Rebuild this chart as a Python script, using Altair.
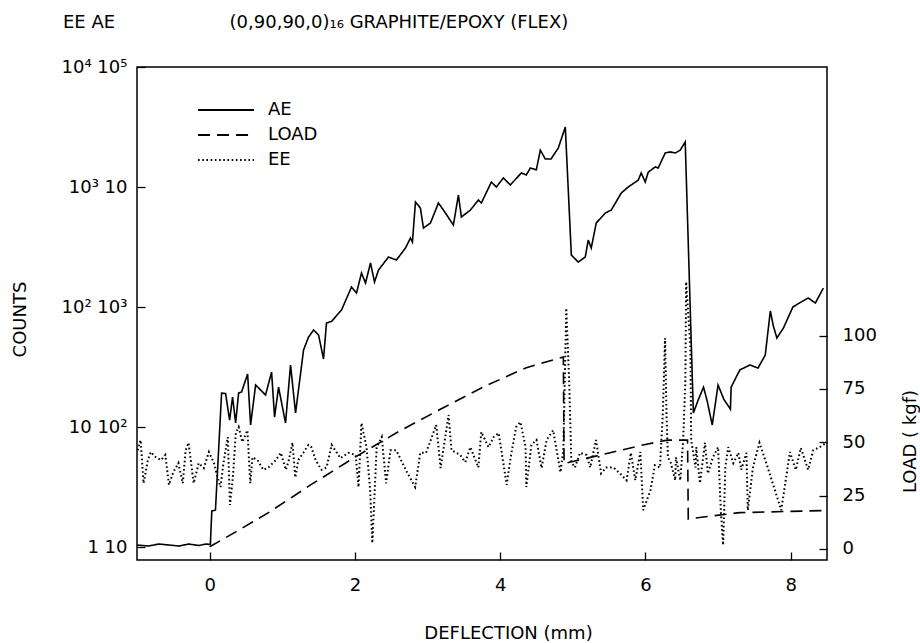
import json
import altair as alt
import pandas as pd

FONT = "DejaVu Sans"
FS = 18

# ---------------- data ----------------
ae_x = [-1.0, -0.84, -0.7, -0.56, -0.42, -0.29, -0.15, -0.05, 0.01, 0.03, 0.08, 0.165, 0.22,
        0.275, 0.316, 0.358, 0.399, 0.44, 0.523, 0.564, 0.633, 0.77, 0.853, 0.894, 0.949,
        1.045, 1.114, 1.183, 1.293, 1.36, 1.431, 1.5, 1.568, 1.609, 1.68, 1.816, 1.953, 2.022,
        2.091, 2.146, 2.215, 2.27, 2.325, 2.462, 2.572, 2.696, 2.765, 2.792, 2.834, 2.902,
        2.944, 3.04, 3.15, 3.219, 3.356, 3.425, 3.466, 3.59, 3.70, 3.741, 3.879, 3.948, 4.044,
        4.14, 4.292, 4.36, 4.415, 4.498, 4.553, 4.622, 4.70, 4.80, 4.897, 4.98, 5.075, 5.172,
        5.213, 5.254, 5.323, 5.447, 5.53, 5.667, 5.763, 5.901, 5.942, 5.997, 6.039, 6.135,
        6.176, 6.272, 6.341, 6.41, 6.479, 6.548, 6.66, 6.73, 6.80, 6.85, 6.92, 7.00, 7.08,
        7.17, 7.18, 7.30, 7.44, 7.55, 7.65, 7.72, 7.76, 7.81, 7.90, 8.03, 8.12, 8.24, 8.34,
        8.45]
ae_counts = [10.4, 10.2, 10.6, 10.4, 10.2, 10.6, 10.3, 10.6, 10.5, 20, 20.3, 192, 190,
             114, 178, 108, 192, 196, 277, 104, 224, 185, 287, 121, 215,
             108, 329, 131, 438, 560, 643, 585, 369, 736, 760, 944, 1468, 1308,
             1920, 1585, 2326, 1616, 2033, 2610, 2465, 3100, 3760, 3480, 7500, 6680,
             4550, 5010, 7360, 6430, 4820, 8580, 5620, 6430, 7790, 7360, 11000, 10000, 11900,
             10400, 13100, 12600, 14400, 13900, 20300, 17100, 17100, 21100, 31600, 2710, 2370, 2610,
             3620, 3100, 5010, 6070, 6430, 8910, 10000, 11400, 13100, 11000, 13300, 14700,
             14400, 19200, 19600, 19200, 20300, 23700, 131, 170, 215, 165, 104, 224, 170,
             141, 215, 299, 329, 310, 398, 927, 700, 552, 668, 1000, 1080, 1190, 1080,
             1440]

load_x = [0.0, 0.36, 0.81, 1.39, 2.0, 2.6, 3.15, 3.77, 4.36, 4.87, 4.88, 5.0, 5.5, 6.0,
          6.3, 6.58, 6.59, 6.8, 7.3, 8.47]
load_kgf = [1, 8, 17, 30, 43, 55, 65, 76, 85, 90, 40, 41, 45, 49,
            51, 51, 14, 15, 17, 18]

ee_x = [-0.99, -0.95, -0.91, -0.85, -0.81, -0.74, -0.67, -0.61, -0.56, -0.50, -0.43, -0.37,
        -0.33, -0.29, -0.22, -0.15, -0.08, -0.01, 0.06, 0.11, 0.15, 0.19, 0.25, 0.28, 0.32,
        0.36, 0.40, 0.45, 0.52, 0.56, 0.59, 0.66, 0.74, 0.81, 0.91, 0.98, 1.05, 1.09, 1.14,
        1.18, 1.22, 1.29, 1.36, 1.40, 1.46, 1.54, 1.61, 1.68, 1.80, 1.91, 2.01, 2.05, 2.09,
        2.16, 2.21, 2.24, 2.30, 2.37, 2.43, 2.49, 2.57, 2.70, 2.83, 2.90, 2.98, 3.12, 3.18,
        3.29, 3.33, 3.45, 3.52, 3.59, 3.70, 3.74, 3.84, 3.91, 3.98, 4.09, 4.15, 4.22, 4.28,
        4.35, 4.36, 4.43, 4.50, 4.57, 4.64, 4.73, 4.83, 4.87, 4.91, 4.95, 4.98, 5.03, 5.10,
        5.19, 5.24, 5.32, 5.39, 5.46, 5.56, 5.65, 5.74, 5.80, 5.86, 5.93, 5.97, 6.07, 6.13,
        6.20, 6.24, 6.27, 6.29, 6.31, 6.35, 6.41, 6.42, 6.48, 6.52, 6.55, 6.56, 6.62, 6.63,
        6.69, 6.70, 6.75, 6.82, 6.86, 6.93, 7.00, 7.04, 7.07, 7.10, 7.14, 7.21, 7.28, 7.32,
        7.39, 7.41, 7.48, 7.57, 7.66, 7.87, 7.99, 8.07, 8.14, 8.24, 8.31, 8.40, 8.49]
ee_counts = [6.4, 7.8, 3.4, 5.3, 6.2, 5.6, 5.3, 5.85, 3.3, 4.2, 5.0, 3.4,
             6.4, 7.4, 3.4, 5.0, 4.55, 6.2, 5.0, 3.8, 3.16, 5.0, 8.25, 2.24, 3.8,
             8.9, 10.0, 7.5, 9.4, 3.4, 5.6, 5.3, 4.4, 4.6, 5.3, 6.1, 4.4, 5.3, 7.4,
             3.8, 5.3, 6.1, 7.1, 6.8, 5.3, 4.4, 4.6, 7.1, 5.5, 6.1, 5.85, 3.16, 10.8,
             6.8, 2.98, 1.08, 6.8, 8.25, 3.4, 6.4, 6.4, 4.4, 3.16, 6.1, 6.1, 10.4, 4.55,
             12.6, 6.4, 5.85, 5.1, 6.8, 4.6, 9.1, 6.8, 8.25, 8.9, 3.3, 5.85, 10.0, 11.0,
             6.8, 3.16, 7.1, 7.8, 4.55, 7.8, 9.4, 4.2, 6.4, 98, 24.6, 5.1, 4.6, 6.1,
             5.85, 4.6, 7.8, 4.1, 4.6, 4.6, 4.1, 3.6, 6.1, 3.6, 6.2, 2.03, 2.98, 4.8,
             4.6, 13.1, 55, 13.1, 5.6, 5.0, 3.6, 5.6, 3.6, 7.8, 24.6, 162, 46, 7.8,
             4.6, 6.8, 3.4, 7.4, 4.1, 5.6, 6.8, 1.92, 1.04, 4.6, 6.8, 5.0, 6.1, 4.4,
             6.1, 2.03, 4.6, 7.4, 5.1, 2.03, 6.2, 4.4, 6.7, 4.4, 6.4, 6.8, 7.4]

x_ticks = [0, 2, 4, 6, 8]
count_ticks = [10, 100, 1000, 10000, 100000]          # AE counts (EE counts are AE / 10)
count_labels = ["1 10", "10 10²", "10² 10³", "10³ 10", "10⁴ 10⁵"]
load_ticks = [0, 25, 50, 75, 100]

series_names = ["AE", "LOAD", "EE"]
series_dash = [[1, 0], [12, 7], [1.6, 2.6]]

title_text = "EE AE" + "\u00a0" * 20 + "(0,90,90,0)₁₆ GRAPHITE/EPOXY (FLEX)"

# ---------------- tables ----------------
ae_df = pd.DataFrame({"deflection": ae_x, "counts": ae_counts, "series": "AE",
                      "order": range(len(ae_x))})
ee_df = pd.DataFrame({"deflection": ee_x, "counts": [v * 10 for v in ee_counts],
                      "series": "EE", "order": range(len(ee_x))})
load_df = pd.DataFrame({"deflection": load_x, "load": load_kgf, "series": "LOAD",
                        "order": range(len(load_x))})

label_expr = json.dumps(count_labels, ensure_ascii=False) + "[round(log(datum.value)/LN10) - 1]"

common_axis = dict(
    domain=False, grid=False, tickSize=8, offset=-8, tickWidth=1.3, tickColor="black",
    labelFont=FONT, labelFontSize=FS, labelColor="black",
    titleFont=FONT, titleFontSize=FS, titleFontWeight="normal", titleColor="black",
)

x_enc = alt.X(
    "deflection:Q",
    scale=alt.Scale(domain=[-1, 8.5], nice=False, zero=False),
    axis=alt.Axis(values=x_ticks, format="d", title="DEFLECTION (mm)", labelPadding=16,
                  titleX=371, titleY=86, titleBaseline="alphabetic", titleAlign="center",
                  **common_axis),
)

# wide horizontal stroke symbol, kept small in "size" so rows stay compact
dash_enc = alt.StrokeDash(
    "series:N",
    scale=alt.Scale(domain=series_names, range=series_dash),
    legend=alt.Legend(title=None, orient="none", legendX=80, legendY=34,
                      direction="vertical", symbolType="M-5,0H5", symbolSize=125,
                      symbolStrokeWidth=1.8, symbolStrokeColor="black",
                      symbolFillColor="transparent",
                      labelFont=FONT, labelFontSize=FS, labelColor="black",
                      labelOffset=33, rowPadding=7, padding=0),
)

y_counts = alt.Y(
    "counts:Q",
    scale=alt.Scale(type="log", domain=[7.8, 100000], nice=False),
    axis=alt.Axis(values=count_ticks, labelExpr=label_expr, title="COUNTS",
                  labelPadding=10, titleAngle=270, titleX=-125, titleY=252,
                  titleAlign="center", titleBaseline="middle", **common_axis),
)

ae_layer = alt.Chart(ae_df).mark_line(color="black", strokeWidth=1.6).encode(
    x=x_enc, y=y_counts, strokeDash=dash_enc, order="order:Q",
)

ee_layer = alt.Chart(ee_df).mark_line(color="black", strokeWidth=2.0).encode(
    x=x_enc, y=y_counts, strokeDash=dash_enc, order="order:Q",
)

load_layer = alt.Chart(load_df).mark_line(color="black", strokeWidth=1.6).encode(
    x=x_enc,
    y=alt.Y(
        "load:Q",
        scale=alt.Scale(domain=[-5.2, 226], nice=False, zero=False),
        axis=alt.Axis(orient="right", values=load_ticks, title="LOAD ( kgf)",
                      labelPadding=15, titleAngle=270, titleX=91, titleY=374,
                      titleAlign="center", titleBaseline="middle", **common_axis),
    ),
    strokeDash=dash_enc,
    order="order:Q",
)

counts_layers = alt.layer(ae_layer, ee_layer)

chart = (
    alt.layer(counts_layers, load_layer)
    .resolve_scale(y="independent")
    .properties(
        width=690,
        height=493,
        autosize=alt.AutoSizeParams(type="none"),
        padding={"left": 137, "top": 67, "right": 93, "bottom": 83},
        title=alt.TitleParams(text=title_text, anchor="start", frame="group", dx=-74,
                              offset=12, baseline="alphabetic", font=FONT, fontSize=FS,
                              fontWeight="normal", color="black"),
        background="white",
    )
    .configure_view(stroke="black", strokeWidth=1.5)
)

chart.save("out.html", embed_options={"renderer": "svg", "actions": False})
